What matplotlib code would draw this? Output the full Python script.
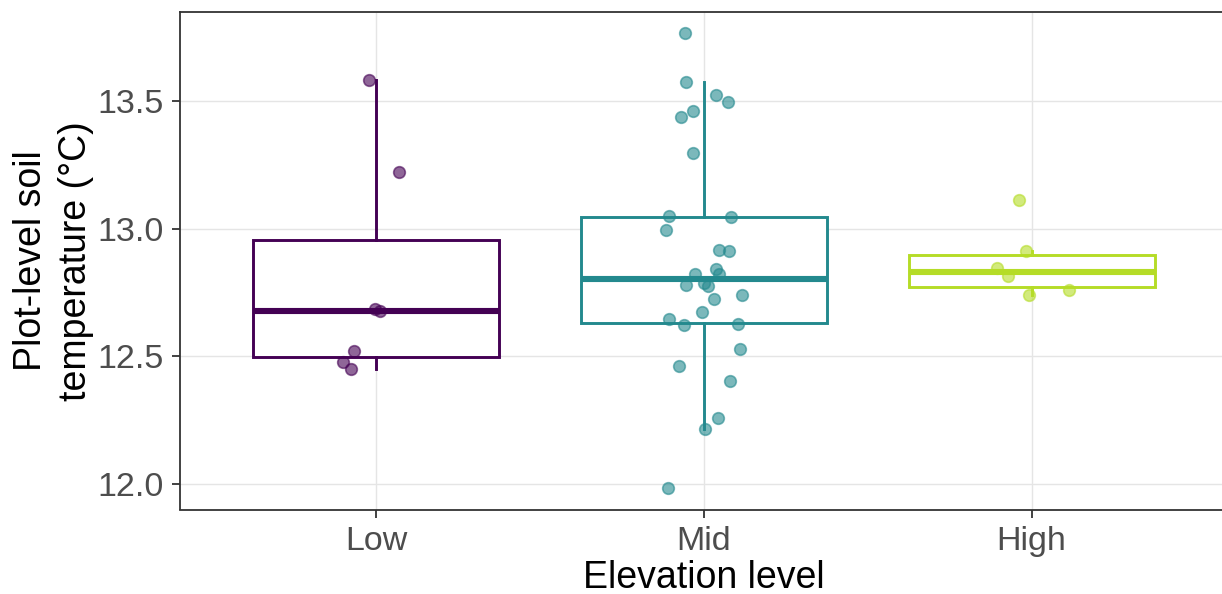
import matplotlib
matplotlib.use("Agg")
import matplotlib.pyplot as plt
import numpy as np

plt.rcParams["font.family"] = ["Liberation Sans", "DejaVu Sans"]

# Elevation groups and plot-level soil temperatures (°C)
categories = ["Low", "Mid", "High"]
colors = ["#440154", "#23898E", "#B5DC27"]

temp_low = [13.581, 13.222, 12.686, 12.678, 12.522, 12.476, 12.450]
jit_low = [-0.023, 0.071, -0.003, 0.013, -0.069, -0.101, -0.078]

temp_mid = [13.765, 13.573, 13.523, 13.497, 13.461, 13.436, 13.297, 13.048,
            13.045, 12.994, 12.916, 12.913, 12.844, 12.824, 12.821, 12.780,
            12.787, 12.777, 12.740, 12.723, 12.672, 12.646, 12.622, 12.627,
            12.529, 12.462, 12.405, 12.260, 12.215, 11.984]
jit_mid = [-0.059, -0.054, 0.038, 0.073, -0.034, -0.071, -0.034, -0.108,
           0.082, -0.117, 0.047, 0.076, 0.038, 0.047, -0.027, -0.056,
           -0.001, 0.013, 0.117, 0.030, -0.005, -0.108, -0.060, 0.104,
           0.111, -0.075, 0.081, 0.043, 0.002, -0.110]

temp_high = [13.113, 12.913, 12.846, 12.813, 12.758, 12.740]
jit_high = [-0.040, -0.017, -0.106, -0.073, 0.115, -0.008]

groups = [temp_low, temp_mid, temp_high]
jitters = [jit_low, jit_mid, jit_high]

W, H = 1222, 594
fig = plt.figure(figsize=(W / 100, H / 100), dpi=100)
left_px, right_px, top_px, bottom_px = 179.5, 1228.3, 12.0, 509.5
ax = fig.add_axes([left_px / W, (H - bottom_px) / H,
                   (right_px - left_px) / W, (bottom_px - top_px) / H])

positions = np.arange(1, len(categories) + 1)

for pos, vals, jit, col in zip(positions, groups, jitters, colors):
    ax.boxplot(vals, positions=[pos], widths=0.75, whis=1.5,
               showfliers=False, showcaps=False, patch_artist=True,
               boxprops=dict(facecolor="white", edgecolor=col, linewidth=2.1),
               whiskerprops=dict(color=col, linewidth=2.1),
               medianprops=dict(color=col, linewidth=4.4, solid_capstyle="butt"),
               zorder=2)
    xs = pos + np.asarray(jit)
    ax.scatter(xs, vals, s=70, color=col, alpha=0.6, edgecolors=col,
               linewidths=1.2, zorder=3)

ax.set_xlim(0.4, 3.6)
ax.set_ylim(11.9, 13.849)
ax.set_xticks(positions)
ax.set_xticklabels(categories)
ax.set_yticks([12.0, 12.5, 13.0, 13.5])
ax.set_yticklabels(["12.0", "12.5", "13.0", "13.5"])

ax.grid(True, color="#E5E5E5", linewidth=1.0)
ax.set_axisbelow(True)
for s in ax.spines.values():
    s.set_color("#333333")
    s.set_linewidth(1.3)

ax.tick_params(axis="both", colors="#333333", length=6, width=1.3,
               labelsize=24.5, labelcolor="#4D4D4D")
ax.tick_params(axis="x", pad=6)
ax.tick_params(axis="y", pad=5)

ax.set_xlabel("Elevation level", fontsize=27, labelpad=2)
ax.set_ylabel("Plot-level soil\ntemperature (°C)", fontsize=27, labelpad=3,
              linespacing=1.3)

fig.savefig("out.png", dpi=100)
